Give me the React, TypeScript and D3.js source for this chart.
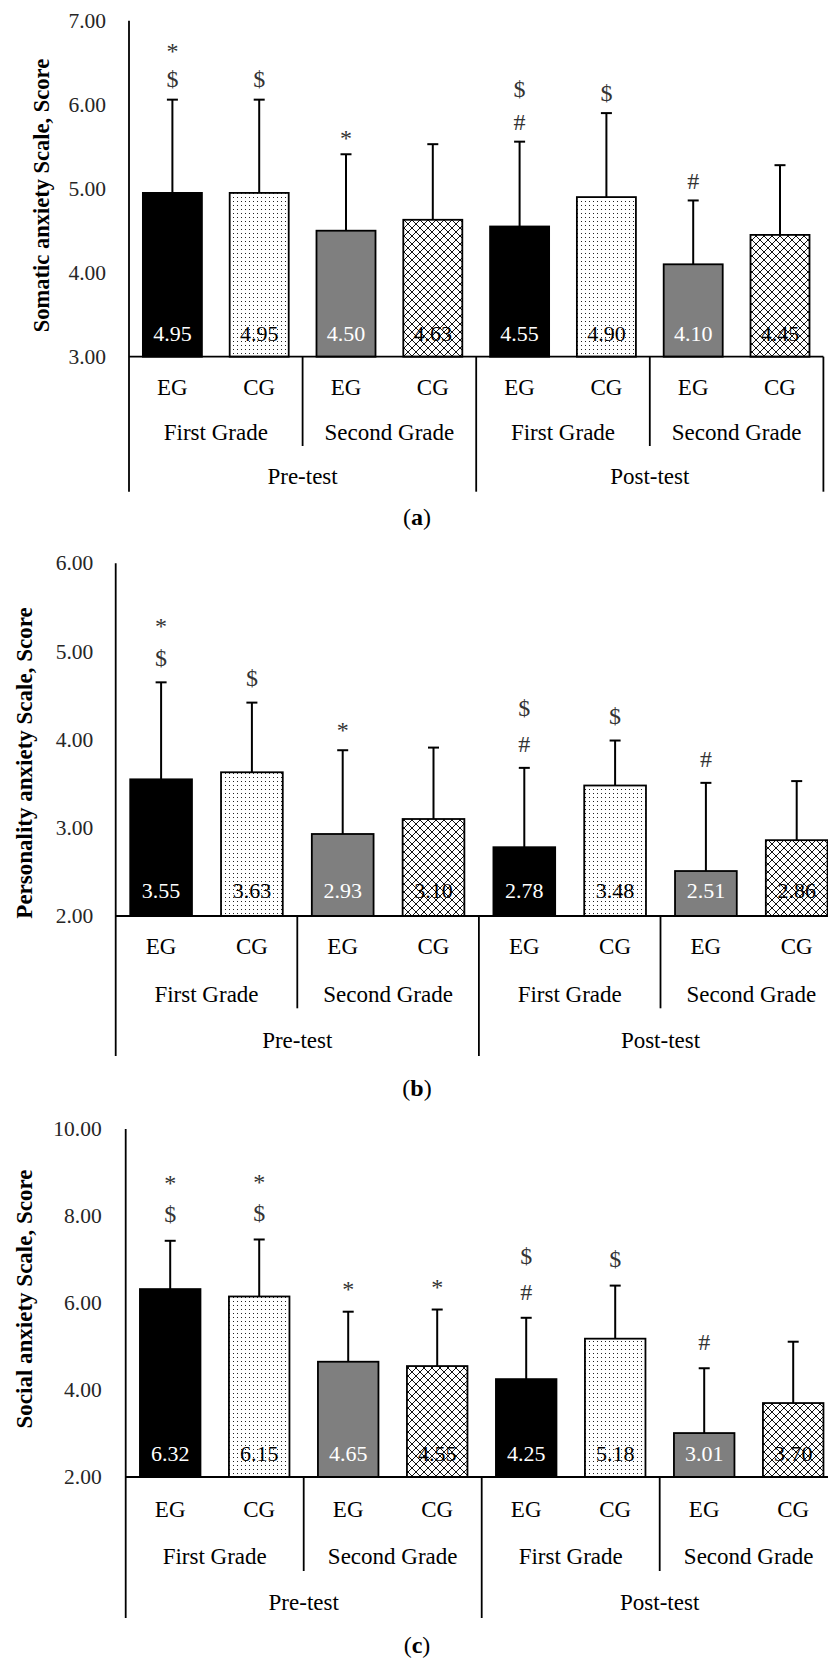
import React from "react";
import * as d3 from "d3";

// ---------- data ----------
const groupLabels = ["EG", "CG", "EG", "CG", "EG", "CG", "EG", "CG"];
const gradeLabels = ["First Grade", "Second Grade", "First Grade", "Second Grade"];
const testLabels = ["Pre-test", "Post-test"];

const somaticMeans = [4.95, 4.95, 4.5, 4.63, 4.55, 4.9, 4.1, 4.45];
const somaticSD = [1.11, 1.11, 0.91, 0.9, 1.01, 1.0, 0.76, 0.83];
const somaticMarks = [["$", "*"], ["$"], ["*"], [], ["#", "$"], ["$"], ["#"], []];
const somaticTicks = [3, 4, 5, 6, 7];

const personalityMeans = [3.55, 3.63, 2.93, 3.1, 2.78, 3.48, 2.51, 2.86];
const personalitySD = [1.1, 0.79, 0.95, 0.81, 0.9, 0.51, 1.0, 0.67];
const personalityMarks = [["$", "*"], ["$"], ["*"], [], ["#", "$"], ["$"], ["#"], []];
const personalityTicks = [2, 3, 4, 5, 6];

const socialMeans = [6.32, 6.15, 4.65, 4.55, 4.25, 5.18, 3.01, 3.7];
const socialSD = [1.11, 1.31, 1.15, 1.3, 1.41, 1.22, 1.49, 1.41];
const socialMarks = [["$", "*"], ["$", "*"], ["*"], ["*"], ["#", "$"], ["$"], ["#"], []];
const socialTicks = [2, 4, 6, 8, 10];

// ---------- layout / style ----------
const FONT = "'Liberation Serif', 'Times New Roman', serif";
const fillStyles = ["#000000", "url(#dots)", "#7f7f7f", "url(#cross)"];
const valueColors = ["#ffffff", "#000000", "#ffffff", "#000000"];

type Layout = {
  left: number; step: number; top: number; base: number;
  valueDy: number; eg: number; grade: number; test: number; divB: number; outerB: number;
  tickRight: number; titleX: number; titleY: number; titleSize: number;
  labelY: number; markGap: number; markStep: number;
};

type PanelDef = {
  title: string; letter: string; means: number[]; sds: number[];
  marks: string[][]; ticks: number[]; layout: Layout;
};

const panels: PanelDef[] = [
  {
    title: "Somatic anxiety Scale, Score", letter: "a",
    means: somaticMeans, sds: somaticSD, marks: somaticMarks, ticks: somaticTicks,
    layout: { left: 129, step: 86.8, top: 20.7, base: 356.7, valueDy: -23.4, eg: 30.6, grade: 75.6, test: 120,
      divB: 89.3, outerB: 135, tickRight: 106, titleX: 48.5, titleY: 195.5, titleSize: 22.5,
      labelY: 519, markGap: 20, markStep: 32 },
  },
  {
    title: "Personality anxiety Scale, Score", letter: "b",
    means: personalityMeans, sds: personalitySD, marks: personalityMarks, ticks: personalityTicks,
    layout: { left: 115.7, step: 90.8, top: 563.3, base: 916, valueDy: -25, eg: 30.7, grade: 78, test: 124.7,
      divB: 92.3, outerB: 140, tickRight: 93.3, titleX: 31.7, titleY: 763, titleSize: 23,
      labelY: 1090, markGap: 24, markStep: 36 },
  },
  {
    title: "Social anxiety Scale, Score", letter: "c",
    means: socialMeans, sds: socialSD, marks: socialMarks, ticks: socialTicks,
    layout: { left: 125.7, step: 89, top: 1129, base: 1477, valueDy: -23.7, eg: 32, grade: 79, test: 125,
      divB: 94, outerB: 141, tickRight: 101.7, titleX: 32, titleY: 1299, titleSize: 23,
      labelY: 1647, markGap: 26, markStep: 35 },
  },
];

const markBaseline: Record<string, number> = { "*": 0.47, "$": 0.32, "#": 0.34 };

function Panel({ p }: { p: PanelDef }) {
  const L = p.layout;
  const n = p.means.length;
  const idx = d3.range(n);
  const x = d3
    .scaleBand<number>()
    .domain(idx)
    .range([L.left, L.left + n * L.step])
    .paddingInner(0.32)
    .paddingOuter(0.16);
  const y = d3
    .scaleLinear()
    .domain([p.ticks[0], p.ticks[p.ticks.length - 1]])
    .range([L.base, L.top]);
  const fmt = d3.format(".2f");
  const step = x.step();
  const x0 = x.range()[0];
  const boundary = (k: number) => x0 + k * step;
  const bw = x.bandwidth();
  const center = (i: number) => (x(i) as number) + bw / 2;
  const markSize = 24;

  return (
    <g>
      {p.ticks.map((t) => (
        <text key={t} x={L.tickRight} y={y(t)} dy="0.33em" textAnchor="end" fontSize={21.5}
          fill="#262626" fontFamily={FONT}>{fmt(t)}</text>
      ))}
      <text transform={`translate(${L.titleX},${L.titleY}) rotate(-90)`} textAnchor="middle"
        fontSize={L.titleSize} fontWeight="bold" fill="#000" fontFamily={FONT}>{p.title}</text>

      {idx.map((i) => (
        <rect key={i} x={x(i)} y={y(p.means[i])} width={bw} height={L.base - y(p.means[i])}
          fill={fillStyles[i % 4]} stroke="#000" strokeWidth={1.8} />
      ))}
      {idx.map((i) => {
        const cx = center(i);
        const yt = y(p.means[i] + p.sds[i]);
        return (
          <g key={i} stroke="#000" strokeWidth={2}>
            <line x1={cx} x2={cx} y1={y(p.means[i])} y2={yt} />
            <line x1={cx - 5.5} x2={cx + 5.5} y1={yt} y2={yt} />
          </g>
        );
      })}
      {idx.map((i) => {
        const yt = y(p.means[i] + p.sds[i]);
        return p.marks[i].map((m, j) => {
          const cy = yt - L.markGap - j * L.markStep;
          return (
            <text key={`${i}-${j}`} x={center(i)} y={cy + markBaseline[m] * markSize} textAnchor="middle"
              fontSize={markSize} fill="#333" fontFamily={FONT}>{m}</text>
          );
        });
      })}
      {idx.map((i) => (
        <text key={i} x={center(i)} y={L.base + L.valueDy} dy="0.33em" textAnchor="middle" fontSize={22}
          fill={valueColors[i % 4]} fontFamily={FONT}>{fmt(p.means[i])}</text>
      ))}

      <line x1={L.left} x2={L.left} y1={L.top} y2={L.base + L.outerB} stroke="#000" strokeWidth={1.8} />
      <line x1={L.left} x2={boundary(n)} y1={L.base} y2={L.base} stroke="#000" strokeWidth={1.8} />
      {[2, 6].map((k) => (
        <line key={k} x1={boundary(k)} x2={boundary(k)} y1={L.base} y2={L.base + L.divB} stroke="#000" strokeWidth={1.8} />
      ))}
      {[4, 8].map((k) => (
        <line key={k} x1={boundary(k)} x2={boundary(k)} y1={L.base} y2={L.base + L.outerB} stroke="#000" strokeWidth={1.8} />
      ))}

      {groupLabels.map((g, i) => (
        <text key={i} x={center(i)} y={L.base + L.eg} dy="0.33em" textAnchor="middle" fontSize={23}
          fill="#000" fontFamily={FONT}>{g}</text>
      ))}
      {gradeLabels.map((g, k) => (
        <text key={k} x={(boundary(2 * k) + boundary(2 * k + 2)) / 2} y={L.base + L.grade} dy="0.33em"
          textAnchor="middle" fontSize={23} fill="#000" fontFamily={FONT}>{g}</text>
      ))}
      {testLabels.map((t, k) => (
        <text key={k} x={(boundary(4 * k) + boundary(4 * k + 4)) / 2} y={L.base + L.test} dy="0.33em"
          textAnchor="middle" fontSize={23} fill="#000" fontFamily={FONT}>{t}</text>
      ))}

      <text x={417} y={L.labelY + 0.26 * 24} textAnchor="middle" fontSize={24} fill="#000" fontFamily={FONT}>
        (<tspan fontWeight="bold">{p.letter}</tspan>)
      </text>
    </g>
  );
}

export default function App() {
  return (
    <svg width={828} height={1663} style={{ position: "absolute", left: 0, top: 0, background: "#fff" }}>
      <defs>
        <pattern id="dots" patternUnits="userSpaceOnUse" width={4} height={4}>
          <rect width={4} height={4} fill="#fff" />
          <rect x={1} y={1} width={1} height={1} fill="#222" />
        </pattern>
        <pattern id="cross" patternUnits="userSpaceOnUse" width={8} height={8}>
          <rect width={8} height={8} fill="#fff" />
          <path d="M-1,-1 L9,9 M9,-1 L-1,9" stroke="#111" strokeWidth={1} />
        </pattern>
      </defs>
      <rect width={828} height={1663} fill="#fff" />
      {panels.map((p) => (
        <Panel key={p.letter} p={p} />
      ))}
    </svg>
  );
}
